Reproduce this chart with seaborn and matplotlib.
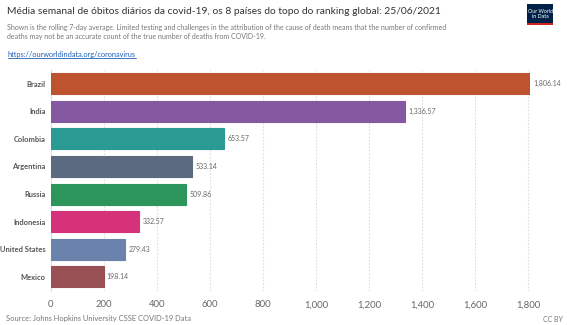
import matplotlib
matplotlib.use("Agg")
import matplotlib.pyplot as plt
import seaborn as sns
import pandas as pd
from matplotlib.patches import Rectangle
from matplotlib.ticker import FuncFormatter

countries = ["Brazil", "India", "Colombia", "Argentina", "Russia", "Indonesia", "United States", "Mexico"]
values = [1806.14, 1336.57, 653.57, 533.14, 509.86, 332.57, 279.43, 198.14]
colors = ["#BE532F", "#8459A1", "#2A9B93", "#5B6A7E", "#2B955B", "#D5327A", "#6A82AC", "#995055"]
xticks = [0, 200, 400, 600, 800, 1000, 1200, 1400, 1600, 1800]

title = "Média semanal de óbitos diários da covid-19, os 8 países do topo do ranking global: 25/06/2021"
subtitle = ("Shown is the rolling 7-day average. Limited testing and challenges in the attribution of the cause of death means that the number of confirmed\n"
            "deaths may not be an accurate count of the true number of deaths from COVID-19.")
link = "https://ourworldindata.org/coronavirus"
source = "Source: Johns Hopkins University CSSE COVID-19 Data"

df = pd.DataFrame({"country": countries, "value": values})

sns.set_theme(style="white")
plt.rcParams["font.family"] = ["Lato", "DejaVu Sans"]

W, H = 567, 325
fig = plt.figure(figsize=(W / 100, H / 100), dpi=100)
ax = fig.add_axes([51 / W, 1 - 290.5 / H, (530 - 51) / W, (290.5 - 70) / H])

pal = dict(zip(countries, colors))
sns.barplot(data=df, x="value", y="country", hue="country", palette=pal, legend=False,
            width=0.76, ax=ax, saturation=1, edgecolor="none", zorder=3)
for p, c in zip(ax.patches, colors):
    p.set_edgecolor(c)
    p.set_linewidth(0.8)

ax.set_xlim(0, 1806.14)
ax.set_ylim(7.5, -0.5)
ax.set_xticks(xticks)
ax.xaxis.set_major_formatter(FuncFormatter(lambda v, _: f"{int(v):,}"))
ax.set_xlabel("")
ax.set_ylabel("")
for s in ["top", "right", "bottom"]:
    ax.spines[s].set_visible(False)
ax.spines["left"].set_color("#dddddd")
ax.spines["left"].set_linewidth(0.8)
ax.grid(axis="x", color="#dddddd", linestyle=(0, (1.5, 1.5)), linewidth=0.8, zorder=0)
ax.tick_params(axis="x", colors="#666666", labelsize=6.8, length=0, pad=7)
ax.tick_params(axis="y", colors="#444444", labelsize=5.4, length=0, pad=4)
for lbl in ax.get_yticklabels():
    lbl.set_fontweight("bold")
    lbl.set_color("#555555")

for i, v in enumerate(values):
    ax.text(v + 12, i, f"{v:,.2f}", va="center", ha="left", fontsize=5.0, color="#666666", clip_on=False)

fig.text(7 / W, 1 - 12 / H, title, fontsize=7.4, color="#333333", va="center", ha="left")
fig.text(7 / W, 1 - 32 / H, subtitle, fontsize=5.05, color="#777777", va="center", ha="left", linespacing=1.45)
t = fig.text(8 / W, 1 - 55 / H, link, fontsize=5.3, color="#1F5FB8", va="center", ha="left")
fig.canvas.draw()
bb = t.get_window_extent()
fig.add_artist(plt.Line2D([bb.x0 / W, bb.x1 / W], [(bb.y0 + 0.5) / H, (bb.y0 + 0.5) / H],
                          color="#1F5FB8", linewidth=0.6, transform=fig.transFigure))
fig.text(6 / W, 1 - 318 / H, source, fontsize=5.4, color="#777777", va="center", ha="left")
fig.text(563 / W, 1 - 319 / H, "CC BY", fontsize=5.0, color="#777777", va="center", ha="right")

# logo
fig.add_artist(Rectangle((527 / W, 1 - 25 / H), 26 / W, 21 / H, transform=fig.transFigure,
                         facecolor="#002147", edgecolor="none"))
fig.add_artist(Rectangle((527 / W, 1 - 25 / H), 26 / W, 1.6 / H, transform=fig.transFigure,
                         facecolor="#CE261E", edgecolor="none"))
fig.text(540 / W, 1 - 14 / H, "Our World\nin Data", fontsize=3.8, color="white", ha="center", va="center",
         linespacing=1.0)

fig.savefig("out.png", dpi=100)
